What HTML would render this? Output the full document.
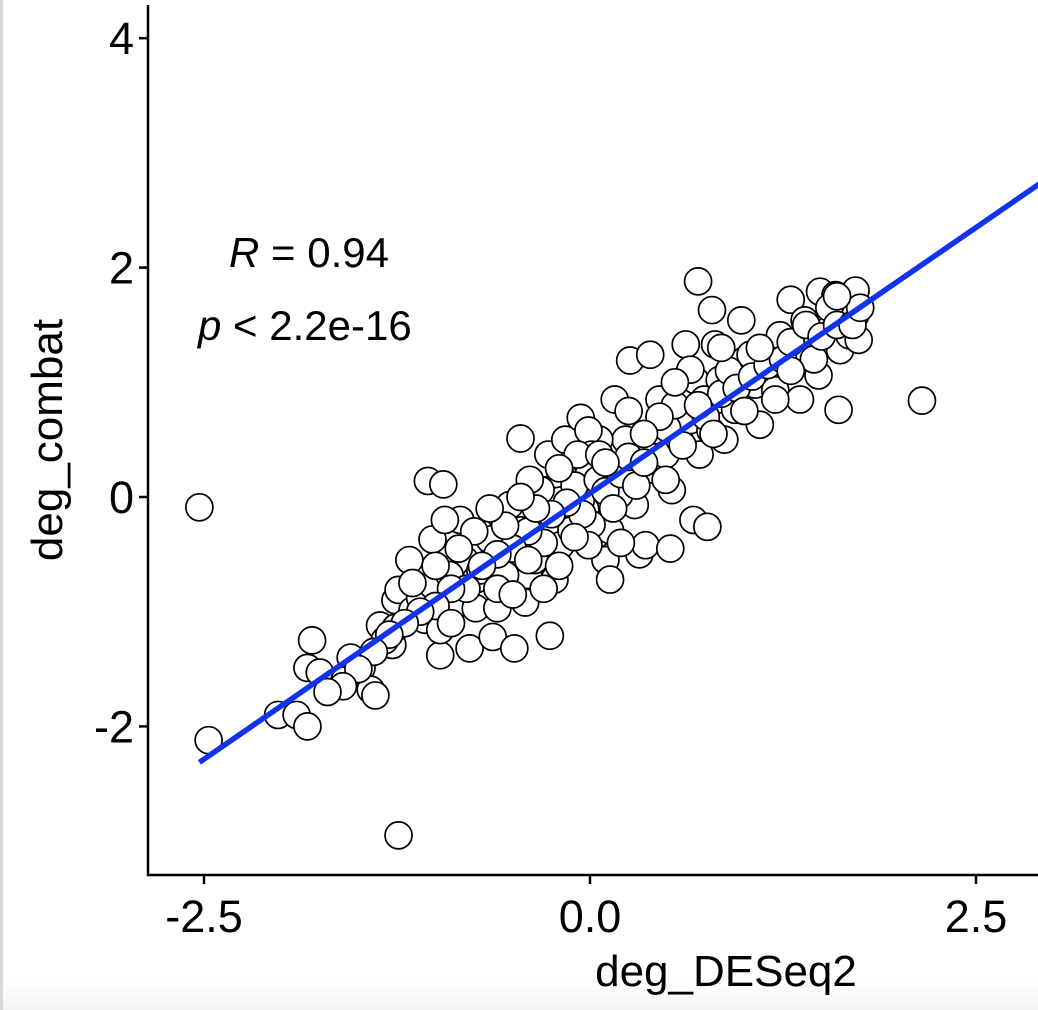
<!DOCTYPE html>
<html><head><meta charset="utf-8"><style>
html,body{margin:0;padding:0;background:#fff}
body{width:1038px;height:1010px;overflow:hidden;position:relative;font-family:"Liberation Sans",Arial,sans-serif}
#strip{position:absolute;left:0;top:0;width:3px;height:1010px;background:#d5d9de}
#bottom{position:absolute;left:3px;top:980px;width:1035px;height:30px;background:linear-gradient(#fff,#f3f3f3)}
</style></head><body>
<div id="strip"></div>
<div id="bottom"></div>
<svg id="chart" width="1038" height="1010" style="position:absolute;left:0;top:0"></svg>
<script>
const xTicks=[-2.5,0,2.5];
const xTickLabels=["-2.5","0.0","2.5"];
const yTicks=[4,2,0,-2];
const yTickLabels=["4","2","0","-2"];
const ptX=[-2.53,-2.47,-1.24,2.15,0.70,-1.05,-0.95,1.61,0.67,0.76,-0.26,-2.02,-1.90,-1.83,-1.80,-1.83,-1.75,
-1.55,-1.48,-1.42,-1.39,-1.59,-1.36,-1.28,-1.26,-1.24,-1.15,-1.10,-1.02,-1.07,-0.97,-0.97,-0.87,-1.02,-0.84,-0.78,-0.81,-0.74,-0.74,-0.78,-0.60,-0.63,-0.49,-0.42,-0.71,-0.65,-0.58,-0.52,-0.49,-0.45,-0.40,-0.36,-0.29,-0.27,-0.27,-0.23,-0.19,-0.19,-0.16,-0.13,-0.12,-0.06,-0.03,-0.03,0,0,0.01,0.03,0.04,0.06,0.10,0.13,0.13,0.16,0.16,0.23,0.26,0.29,0.32,0.36,0.39,0.39,0.42,0.45,0.49,0.52,0.53,0.58,0.62,0.65,0.68,0.71,0.78,0.79,0.81,0.83,0.84,0.87,0.94,0.98,1.00,1.07,1.10,1.17,1.20,1.23,1.30,1.33,1.36,1.39,1.44,1.48,1.49,1.55,1.59,1.62,1.65,1.68,1.72,1.72,1.74,1.04,0.65,0.74,0.49,0.19,0.06,-0.19,-0.32,-0.39,-0.45,-0.55,-0.91,-0.94,-1.17,-1.26,-1.33,
-0.01,0.01,-0.01,0.03,-0.03,0.01,-0.01,-0.08,0.06,-0.06,
-0.1,-0.05,0.05,0.1,-0.15,0.15,0.2,-0.2,0.25,-0.25,0.3,0.35,-0.3,0.1,-0.1,0.2,
0.5,0.55,0.6,0.75,0.85,0.9,0.95,1.05,1.15,1.25,1.3,1.4,1.45,1.5,1.55,1.6,1.7,1.75,1.3,1.2,1.0,0.8,0.7,0.45,0.35,0.25,0.55,0.85,1.1,1.6,
-0.4,-0.5,-0.6,-0.7,-0.8,-0.9,-1.0,-1.1,-1.2,-1.3,-1.4,-1.5,-1.6,-1.7,-0.55,-0.65,-0.75,-0.85,-0.35,-0.45,-0.2,-0.3,-0.6,-1.0,-1.15,-0.9,-0.5,-0.4];
const ptY=[-0.09,-2.12,-2.95,0.84,1.88,0.14,0.11,0.76,-0.20,-0.26,-1.21,-1.90,-1.90,-2.00,-1.25,-1.49,-1.53,
-1.40,-1.49,-1.68,-1.73,-1.60,-1.12,-1.29,-0.90,-0.81,-0.99,-0.88,-0.77,-1.07,-1.38,-1.16,-0.94,-0.37,-0.20,-0.42,-0.55,-0.72,-0.97,-1.32,-0.97,-1.22,-1.32,-0.92,-0.64,-0.37,-0.16,-0.07,-0.48,0.51,-0.68,-0.55,-0.29,0.37,0.06,-0.72,-0.42,0.19,0.50,-0.11,-0.29,0.69,0.32,0.0,-0.20,0.24,0.45,-0.03,-0.33,0.10,-0.55,-0.72,-0.29,0.85,0.24,0.50,1.19,-0.07,-0.50,-0.42,1.24,0.24,0.58,0.85,0.37,-0.45,0.06,0.50,1.33,0.67,1.02,0.37,0.58,1.63,1.33,0.85,1.02,0.50,0.76,1.54,1.19,0.98,0.63,1.28,0.93,1.41,1.72,1.24,0.85,1.54,1.37,1.06,1.79,1.46,1.76,1.28,1.59,1.41,1.80,1.59,1.37,1.24,1.11,0.85,0.15,0.02,0.50,-0.03,0.06,0.15,-0.29,-0.68,-0.68,-0.20,-0.55,-1.14,-1.25,
0.58,0.37,0.19,0.06,-0.11,-0.24,-0.42,0.37,0.37,-0.03,
0.1,-0.15,0.15,0.05,-0.05,-0.1,0.2,0.25,0.35,-0.15,0.1,0.3,-0.4,0.3,-0.35,-0.4,
0.6,0.8,0.45,0.7,0.9,1.1,0.95,1.05,1.15,1.2,1.35,1.5,1.2,1.4,1.65,1.5,1.5,1.65,1.1,0.85,0.75,0.55,0.8,0.7,0.55,0.75,1.0,1.3,1.3,1.75,
-0.3,-0.45,-0.5,-0.6,-0.8,-0.8,-0.95,-1.0,-1.1,-1.2,-1.35,-1.5,-1.65,-1.7,-0.25,-0.1,-0.3,-0.45,-0.1,0.0,-0.6,-0.8,-0.8,-0.6,-0.75,-1.1,-0.85,-0.55];
const fitSlope=0.927, fitIntercept=0.032, fitX0=-2.53, fitX1=2.95;

const NS="http://www.w3.org/2000/svg";
const svg=document.getElementById('chart');
const X0=148,X1=1038,Y0=5,Y1=875;
const sx=v=>590+v*154.4;
const sy=v=>497-v*114.7;
function mk(tag,attrs,parent){const e=document.createElementNS(NS,tag);for(const k in attrs)e.setAttribute(k,attrs[k]);(parent||svg).appendChild(e);return e;}

const clip=mk('clipPath',{id:'pc'});
mk('rect',{x:X0,y:0,width:X1-X0,height:Y1},clip);
const pg=mk('g',{'clip-path':'url(#pc)'});


for(let i=0;i<ptX.length;i++){
  const c=mk('circle',{cx:sx(ptX[i]),cy:sy(ptY[i]),r:13.5,fill:'#fff',stroke:'#000','stroke-width':1.7},pg);
  
  
}
const ln=mk('line',{x1:sx(fitX0),y1:sy(fitIntercept+fitSlope*fitX0),x2:sx(fitX1),y2:sy(fitIntercept+fitSlope*fitX1),stroke:'#1133ee','stroke-width':5.5},pg);



const ax=mk('path',{d:`M${X0},${Y0}V${Y1}H${X1}`,fill:'none',stroke:'#000','stroke-width':2.5});


xTicks.forEach((t,i)=>{
  mk('line',{x1:sx(t),x2:sx(t),y1:Y1,y2:Y1+9,stroke:'#000','stroke-width':2.5});
  const tx=mk('text',{x:sx(t),y:932,'text-anchor':'middle','font-size':45,fill:'#000'});
  tx.textContent=xTickLabels[i];
  
  
});
yTicks.forEach((t,i)=>{
  mk('line',{x1:X0-9,x2:X0,y1:sy(t),y2:sy(t),stroke:'#000','stroke-width':2.5});
  const tx=mk('text',{x:X0-14,y:sy(t)+16,'text-anchor':'end','font-size':45,fill:'#000'});
  tx.textContent=yTickLabels[i];
  
  
});
const xt=mk('text',{x:726,y:986,'text-anchor':'middle','font-size':44,fill:'#000'});
xt.textContent='deg_DESeq2';


const yt=mk('text',{x:0,y:0,'text-anchor':'middle','font-size':44,fill:'#000',transform:'translate(62,440) rotate(-90)'});
yt.textContent='deg_combat';


const r=mk('text',{x:229,y:267,'font-size':42,fill:'#000'});
r.innerHTML='<tspan font-style="italic">R</tspan> = 0.94';


const p=mk('text',{x:198,y:340,'font-size':42,fill:'#000'});
p.innerHTML='<tspan font-style="italic">p</tspan> &lt; 2.2e-16';


</script>
</body></html>
